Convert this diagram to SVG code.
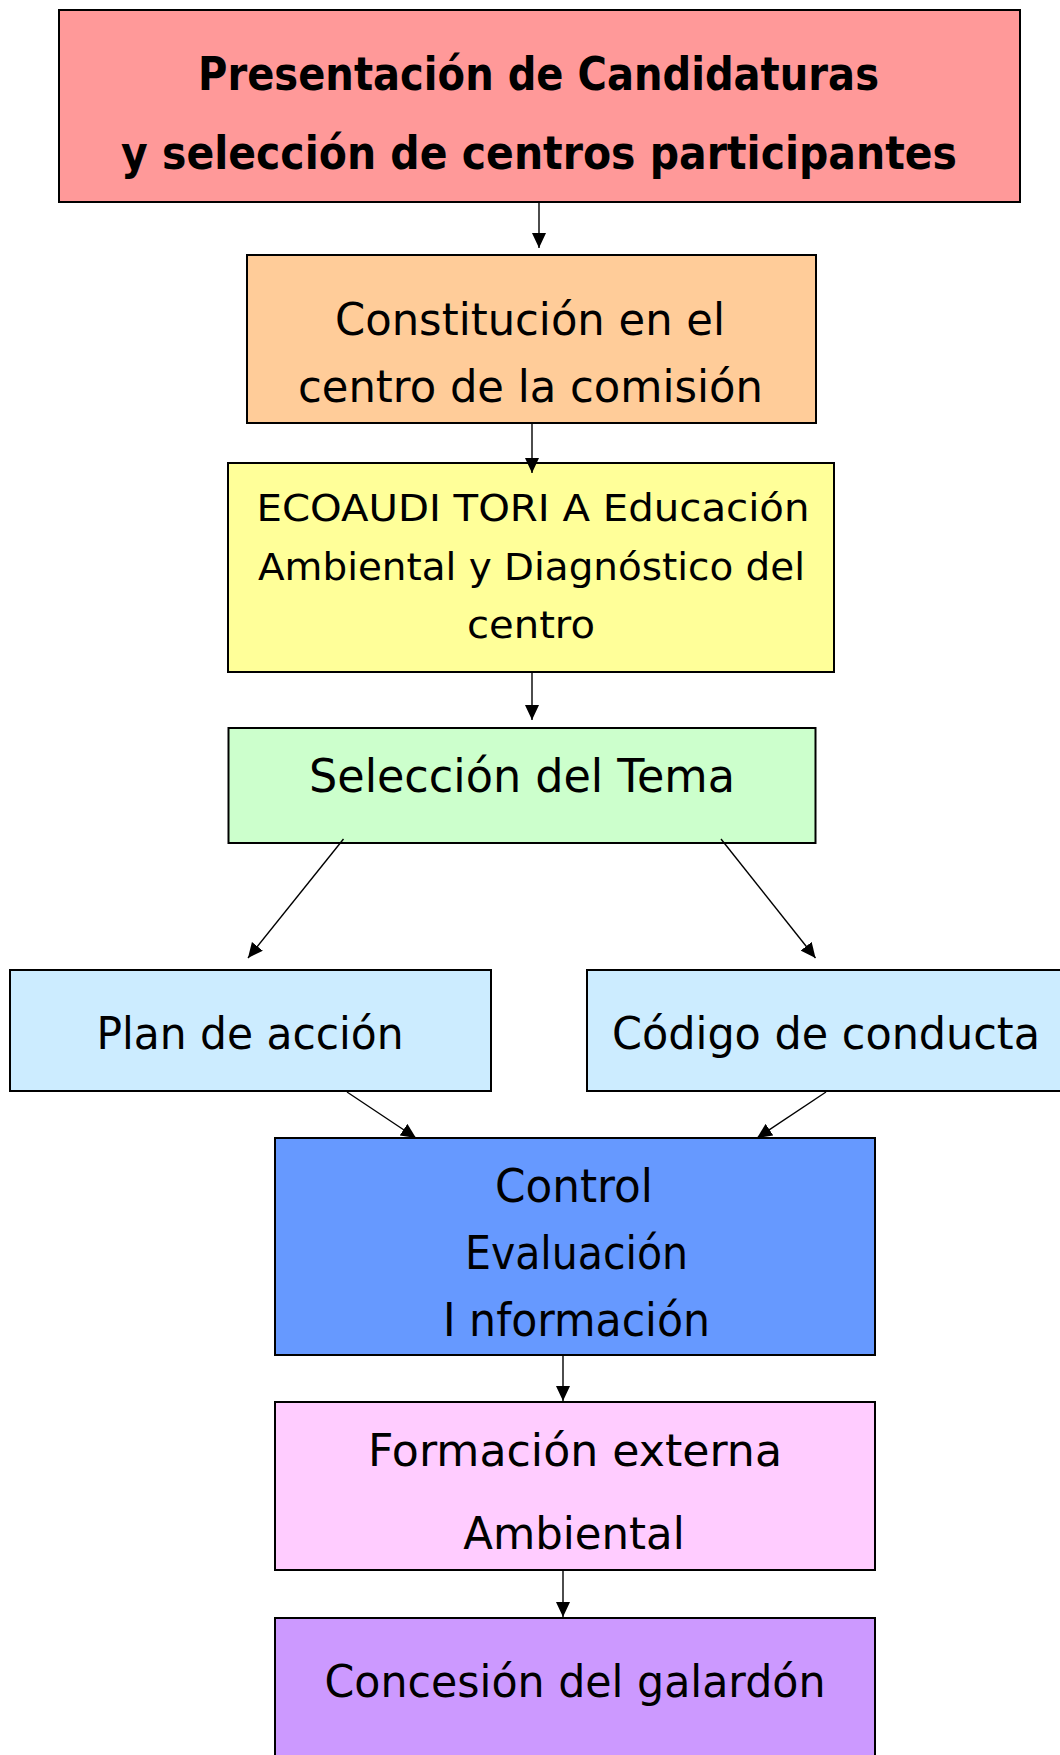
<svg xmlns="http://www.w3.org/2000/svg" width="1060" height="1755" viewBox="0 0 1060 1755">
<style>
.box{stroke:#000;stroke-width:2}
.t{font-family:"DejaVu Sans","Liberation Sans",sans-serif;fill:#000;text-anchor:middle}
.b{font-weight:bold}
.c{stroke:#000;stroke-width:1.4;fill:none;marker-end:url(#ah)}
</style>
<defs>
<marker id="ah" markerUnits="userSpaceOnUse" markerWidth="16" markerHeight="14" refX="15" refY="7" orient="auto">
<path d="M0,0 L15,7 L0,14 z" fill="#000"/>
</marker>
</defs>
<rect width="1060" height="1755" fill="#fff"/>
<g id="n1">
<rect class="box" x="59" y="10" width="961" height="192" fill="#FF9999"/>
<text class="t b" x="538.5" y="90" font-size="46" textLength="681" lengthAdjust="spacingAndGlyphs">Presentación de Candidaturas</text>
<text class="t b" x="539" y="169" font-size="46" textLength="836" lengthAdjust="spacingAndGlyphs">y selección de centros participantes</text>
</g>
<g id="n2">
<rect class="box" x="247" y="255" width="569" height="168" fill="#FFCC99"/>
<text class="t" x="530" y="335" font-size="44" textLength="390" lengthAdjust="spacingAndGlyphs">Constitución en el</text>
<text class="t" x="530.5" y="402" font-size="44" textLength="465" lengthAdjust="spacingAndGlyphs">centro de la comisión</text>
</g>
<g id="n3">
<rect class="box" x="228" y="463" width="606" height="209" fill="#FFFF99"/>
<text class="t" x="533" y="520.5" font-size="37" textLength="553" lengthAdjust="spacingAndGlyphs">ECOAUDI TORI A Educación</text>
<text class="t" x="531.5" y="580" font-size="37" textLength="547" lengthAdjust="spacingAndGlyphs">Ambiental y Diagnóstico del</text>
<text class="t" x="531" y="638" font-size="37" textLength="128" lengthAdjust="spacingAndGlyphs">centro</text>
</g>
<g id="n4">
<rect class="box" x="228.5" y="728" width="587" height="115" fill="#CCFFCC"/>
<text class="t" x="522" y="792" font-size="46" textLength="426" lengthAdjust="spacingAndGlyphs">Selección del Tema</text>
</g>
<g id="n5">
<rect class="box" x="10" y="970" width="481" height="121" fill="#CCECFF"/>
<text class="t" x="250" y="1049" font-size="44" textLength="307" lengthAdjust="spacingAndGlyphs">Plan de acción</text>
</g>
<g id="n6">
<rect class="box" x="587" y="970" width="490" height="121" fill="#CCECFF"/>
<text class="t" x="826" y="1049" font-size="44" textLength="428" lengthAdjust="spacingAndGlyphs">Código de conducta</text>
</g>
<g id="n7">
<rect class="box" x="275" y="1138" width="600" height="217" fill="#6699FF"/>
<text class="t" x="574" y="1202" font-size="46" textLength="158" lengthAdjust="spacingAndGlyphs">Control</text>
<text class="t" x="576.5" y="1269" font-size="46" textLength="223" lengthAdjust="spacingAndGlyphs">Evaluación</text>
<text class="t" x="576.5" y="1336" font-size="46" textLength="267" lengthAdjust="spacingAndGlyphs">I nformación</text>
</g>
<g id="n8">
<rect class="box" x="275" y="1402" width="600" height="168" fill="#FFCCFF"/>
<text class="t" x="575" y="1466" font-size="44" textLength="414" lengthAdjust="spacingAndGlyphs">Formación externa</text>
<text class="t" x="574" y="1548.5" font-size="44" textLength="221.5" lengthAdjust="spacingAndGlyphs">Ambiental</text>
</g>
<g id="n9">
<rect class="box" x="275" y="1618" width="600" height="160" fill="#CC99FF"/>
<text class="t" x="575" y="1697" font-size="44" textLength="501" lengthAdjust="spacingAndGlyphs">Concesión del galardón</text>
</g>
<g id="connectors">
<line class="c" x1="539" y1="203" x2="539" y2="248"/>
<line class="c" x1="532" y1="424" x2="532" y2="473"/>
<line class="c" x1="532" y1="673" x2="532" y2="720"/>
<line class="c" x1="343.5" y1="839" x2="248" y2="958"/>
<line class="c" x1="721" y1="839" x2="815.5" y2="958"/>
<line class="c" x1="347" y1="1092" x2="416" y2="1138"/>
<line class="c" x1="826" y1="1092" x2="757" y2="1138"/>
<line class="c" x1="563" y1="1356" x2="563" y2="1401"/>
<line class="c" x1="563" y1="1571" x2="563" y2="1617"/>
</g>
</svg>
